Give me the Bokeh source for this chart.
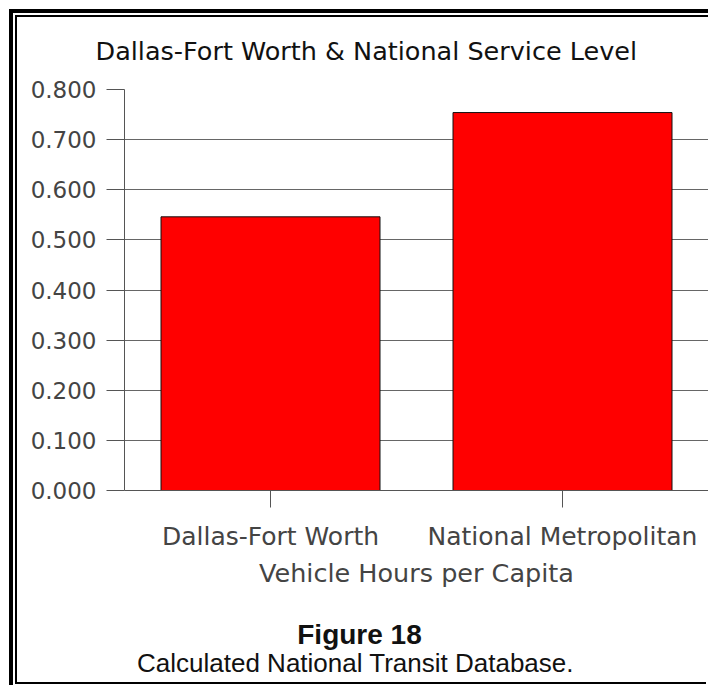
from bokeh.plotting import figure
from bokeh.layouts import column
from bokeh.models import (FactorRange, Range1d, FixedTicker, NumeralTickFormatter,
                          ColumnDataSource)
from bokeh.core.properties import value
from bokeh.embed import file_html
from bokeh.resources import INLINE

# ---- data ----
categories = ["Dallas-Fort Worth", "National Metropolitan"]
vehicle_hours = [0.546, 0.754]
y_ticks = [0.0, 0.1, 0.2, 0.3, 0.4, 0.5, 0.6, 0.7, 0.8]
chart_title = "Dallas-Fort Worth & National Service Level"
x_title = "Vehicle Hours per Capita"
fig_label = "Figure 18"
fig_caption = "Calculated National Transit Database."

FONT = "DejaVu Sans"
CAPFONT = "Liberation Sans"
W = 691
LEFT = 107


def text_strip(height, top_border=0):
    f = figure(width=W, height=height, x_range=Range1d(LEFT, W), y_range=Range1d(0, height - top_border),
               x_axis_type=None, y_axis_type=None, output_backend="svg",
               toolbar_location=None, min_border=0, min_border_left=LEFT,
               min_border_top=top_border)
    f.outline_line_color = None
    f.grid.grid_line_color = None
    f.border_fill_color = "white"
    f.background_fill_color = "white"
    return f


# ---- title strip ----
top = text_strip(57, top_border=50)
top.title.text = chart_title
top.title.align = "left"
top.title.offset = -29
top.title.standoff = 4
top.title.text_font = FONT
top.title.text_font_size = "25.5px"
top.title.text_font_style = "normal"
top.title.text_color = "#111111"

# ---- chart ----
p = figure(width=W, height=543,
           x_range=FactorRange(factors=categories, range_padding=0),
           y_range=Range1d(0, 0.8), output_backend="svg", toolbar_location=None,
           min_border_left=LEFT, min_border_right=0,
           min_border_top=15, min_border_bottom=127)
p.outline_line_color = None
p.background_fill_color = "white"
p.border_fill_color = "white"

src = ColumnDataSource(dict(cat=categories, val=vehicle_hours))
p.vbar(x="cat", top="val", width=0.75, source=src, fill_color="#ff0000",
       line_color="#111111", line_width=1)

p.yaxis.ticker = FixedTicker(ticks=y_ticks)
p.yaxis.formatter = NumeralTickFormatter(format="0.000")
p.yaxis.major_tick_out = 18
p.yaxis.major_tick_in = 0
p.yaxis.minor_tick_line_color = None
p.yaxis.axis_line_color = "#555555"
p.yaxis.major_tick_line_color = "#555555"
p.yaxis.major_label_text_font = FONT
p.yaxis.major_label_text_font_size = "23px"
p.yaxis.major_label_text_color = "#444444"
p.yaxis.major_label_standoff = 10

p.xaxis.major_tick_out = 17
p.xaxis.major_tick_in = 0
p.xaxis.axis_line_color = "#555555"
p.xaxis.major_tick_line_color = "#555555"
p.xaxis.major_label_text_font = FONT
p.xaxis.major_label_text_font_size = "25px"
p.xaxis.major_label_text_color = "#444444"
p.xaxis.major_label_standoff = 14
p.xaxis.axis_label = x_title
p.xaxis.axis_label_text_font = FONT
p.xaxis.axis_label_text_font_size = "25.5px"
p.xaxis.axis_label_text_font_style = "normal"
p.xaxis.axis_label_text_color = "#444444"
p.xaxis.axis_label_standoff = 4

p.xgrid.grid_line_color = None
p.ygrid.grid_line_color = "#666666"
p.ygrid.grid_line_width = 1

# ---- figure number and caption strip ----
bottom = text_strip(65)
bottom.text(x=[342], y=[48], text=[fig_label], text_align="center", text_baseline="middle",
            text_font=value(CAPFONT), text_font_style="bold", text_font_size="28px",
            text_color="#111111")
bottom.text(x=[338], y=[20], text=[fig_caption], text_align="center", text_baseline="middle",
            text_font=value(CAPFONT), text_font_size="26px", text_color="#111111")

layout = column(top, p, bottom, spacing=0)
# double rule frame (outer thick, inner thin) on the top and left, single on the bottom
layout.styles = {"margin-left": "17px", "margin-top": "17px",
                 "box-shadow": ", ".join([
                     "-2px 2px 0 0 #000", "-2px -2px 0 0 #000", "0 -2px 0 0 #000",
                     "-4px -4px 0 0 #fff", "-4px 4px 0 0 #fff", "0 -4px 0 0 #fff",
                     "-8px -8px 0 0 #000", "-8px 8px 0 0 #000", "0 -8px 0 0 #000"])}

open("out.html", "w").write(file_html(layout, INLINE))
